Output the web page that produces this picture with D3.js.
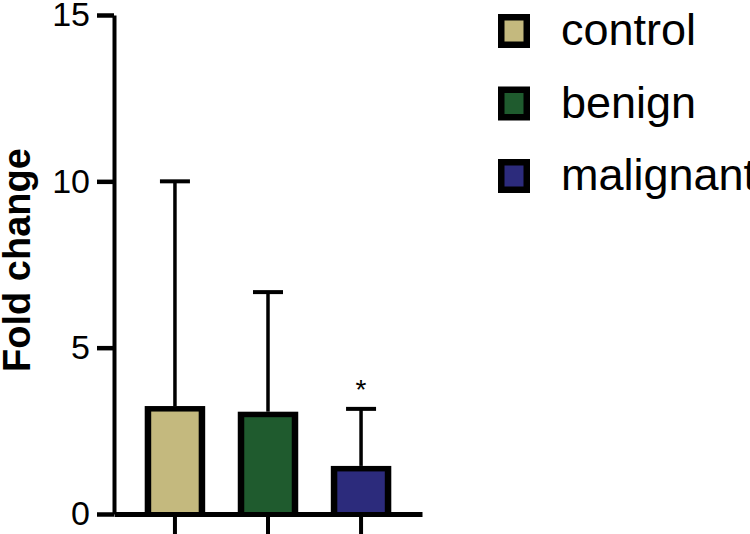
<!DOCTYPE html>
<html>
<head>
<meta charset="utf-8">
<script src="https://cdn.jsdelivr.net/npm/d3@7"></script>
<style>
  html, body { margin: 0; padding: 0; background: #fff; }
  svg { display: block; font-family: "Liberation Sans", Arial, sans-serif; }
</style>
</head>
<body>
<svg id="bar-chart" width="750" height="534"></svg>
<script>
// Chart data
var groups = ["control", "benign", "malignant"];
var means = [3.17, 3.0, 1.37];
var errorTops = [10.0, 6.67, 3.16];
var colors = ["#c4b97e", "#1f5b2e", "#2c2b7c"];
var significance = ["", "", "*"];
var yTicks = [0, 5, 10, 15];

var svg = d3.select("#bar-chart");

//Set the ranges
var x = d3.scaleBand().domain(groups).range([114, 422]).paddingInner(0.35).paddingOuter(0.33);
var y = d3.scaleLinear().domain([0, 15]).range([514, 15]);

//Draw bars (black outline + coloured inner)
var bars = svg.append("g").selectAll("g").data(groups).enter().append("g");

bars.append("rect")
    .attr("x", function(d) { return x(d); })
    .attr("y", function(d, i) { return y(means[i]) - 2.5; })
    .attr("width", x.bandwidth())
    .attr("height", function(d, i) { return y(0) - y(means[i]) + 2.5; })
    .attr("fill", "#000");

bars.append("rect")
    .attr("x", function(d) { return x(d) + 6.5; })
    .attr("y", function(d, i) { return y(means[i]) + 3; })
    .attr("width", x.bandwidth() - 13)
    .attr("height", function(d, i) { return y(0) - y(means[i]) - 3; })
    .attr("fill", function(d, i) { return colors[i]; });

//Error bars
var cx = function(d) { return x(d) + x.bandwidth() / 2; };

bars.append("line")
    .attr("x1", cx).attr("x2", cx)
    .attr("y1", function(d, i) { return y(means[i]) - 2.5; })
    .attr("y2", function(d, i) { return y(errorTops[i]); })
    .attr("stroke", "#000").attr("stroke-width", 3.5);

bars.append("line")
    .attr("x1", function(d) { return cx(d) - 15; })
    .attr("x2", function(d) { return cx(d) + 15; })
    .attr("y1", function(d, i) { return y(errorTops[i]); })
    .attr("y2", function(d, i) { return y(errorTops[i]); })
    .attr("stroke", "#000").attr("stroke-width", 4);

//Significance marks
bars.append("text")
    .attr("x", cx)
    .attr("y", function(d, i) { return y(errorTops[i]) - 10; })
    .attr("text-anchor", "middle")
    .attr("font-size", 28)
    .attr("fill", "#000")
    .text(function(d, i) { return significance[i]; });

//Y axis
var yAxis = svg.append("g")
    .attr("transform", "translate(114,0)")
    .call(d3.axisLeft(y).tickValues(yTicks).tickSize(17).tickSizeOuter(0).tickPadding(7));
yAxis.select(".domain").attr("stroke", "#000").attr("stroke-width", 4);
yAxis.selectAll(".tick line").attr("stroke", "#000").attr("stroke-width", 4.5);
yAxis.selectAll(".tick text")
    .attr("font-family", "'Liberation Sans', Arial, sans-serif")
    .attr("font-size", 34).attr("fill", "#000");

//X axis
var xAxis = svg.append("g")
    .attr("transform", "translate(0,514)")
    .call(d3.axisBottom(x).tickSize(22).tickSizeOuter(0).tickFormat(""));
xAxis.select(".domain").attr("stroke", "#000").attr("stroke-width", 5);
xAxis.selectAll(".tick line").attr("stroke", "#000").attr("stroke-width", 4);

//Y axis title
svg.append("text")
    .attr("transform", "translate(30,260) rotate(-90)")
    .attr("text-anchor", "middle")
    .attr("font-size", 38)
    .attr("font-weight", "bold")
    .attr("fill", "#000")
    .text("Fold change");

//Legend
var legend = svg.append("g").selectAll("g").data(groups).enter().append("g")
    .attr("transform", function(d, i) { return "translate(498," + (14 + i * 72.5) + ")"; });

legend.append("rect")
    .attr("width", 32).attr("height", 34).attr("fill", "#000");
legend.append("rect")
    .attr("x", 6.5).attr("y", 6.5).attr("width", 19).attr("height", 21)
    .attr("fill", function(d, i) { return colors[i]; });
legend.append("text")
    .attr("x", 63).attr("y", 31)
    .attr("font-size", 45)
    .attr("fill", "#000")
    .text(function(d) { return d; });
</script>
</body>
</html>
